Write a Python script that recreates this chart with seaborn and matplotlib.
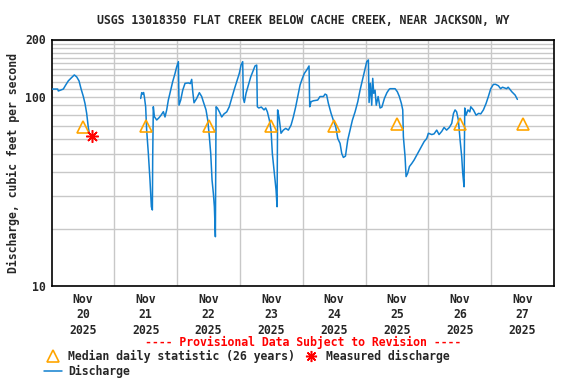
import numpy as np
import pandas as pd
import matplotlib
matplotlib.use('Agg')
import matplotlib.pyplot as plt
import matplotlib.dates as mdates
from matplotlib.lines import Line2D
from matplotlib.ticker import FixedLocator, NullFormatter
import seaborn as sb

# discharge: days after Nov 20 00:00 and cfs
seg1_days = [0.0, 0.098, 0.109, 0.188, 0.226, 0.268, 0.321, 0.363, 0.401, 0.438,
             0.470, 0.507, 0.533, 0.560, 0.586, 0.602, 0.64]
seg1_cfs = [109.5, 109.5, 107, 109.5, 115, 121, 126, 130, 127, 121,
            110, 100, 92, 81.5, 68.7, 64, 62]

seg2_days = [1.420, 1.436, 1.452, 1.466, 1.478, 1.499, 1.515, 1.542, 1.568, 1.590,
             1.606, 1.611, 1.621, 1.638, 1.675, 1.712, 1.744, 1.781, 1.807, 1.834,
             1.860, 1.898, 1.929, 1.967, 1.993, 2.020, 2.030, 2.057, 2.089, 2.126,
             2.180, 2.210, 2.232, 2.249, 2.269, 2.311, 2.354, 2.391, 2.417, 2.460,
             2.487, 2.513, 2.535, 2.556, 2.577, 2.593, 2.609, 2.620, 2.640, 2.673,
             2.710, 2.747, 2.790, 2.830, 2.868, 2.906, 2.949, 2.990, 3.018, 3.044,
             3.054, 3.070, 3.097, 3.134, 3.172, 3.214, 3.240, 3.267, 3.277, 3.300,
             3.340, 3.384, 3.410, 3.437, 3.469, 3.495, 3.516, 3.548, 3.575, 3.591,
             3.600, 3.622, 3.654, 3.691, 3.729, 3.771, 3.814, 3.850, 3.888, 3.920,
             3.957, 3.994, 4.026, 4.063, 4.100, 4.111, 4.132, 4.170, 4.238, 4.275,
             4.330, 4.355, 4.380, 4.408, 4.451, 4.487, 4.525, 4.557, 4.594, 4.621,
             4.647, 4.680, 4.716, 4.753, 4.790, 4.833, 4.876, 4.912, 4.949, 4.992,
             5.019, 5.045, 5.056, 5.077, 5.098, 5.114, 5.130, 5.151, 5.170, 5.200,
             5.231, 5.260, 5.300, 5.340, 5.374, 5.390, 5.470, 5.506, 5.538, 5.570,
             5.592, 5.602, 5.629, 5.645, 5.670, 5.698, 5.735, 5.772, 5.815, 5.857,
             5.894, 5.932, 5.974, 6.000, 6.054, 6.090, 6.133, 6.170, 6.213, 6.250,
             6.290, 6.334, 6.372, 6.400, 6.425, 6.450, 6.478, 6.505, 6.531, 6.547,
             6.568, 6.579, 6.600, 6.630, 6.660, 6.675, 6.717, 6.760, 6.800, 6.834,
             6.876, 6.919, 6.955, 6.993, 7.035, 7.070, 7.115, 7.150, 7.180, 7.245,
             7.270, 7.290, 7.328, 7.381, 7.417]
seg2_cfs = [97.7, 104.8, 103, 105, 100, 88.3, 66.5, 50, 36.2, 26.2,
            25.2, 47.2, 88.3, 78.3, 75.2, 77.3, 79.7, 83.2, 78, 85,
            95.8, 108, 119.7, 132.5, 143.6, 152.8, 90.1, 95.8, 108, 117.4,
            118, 117, 123.2, 106, 92.7, 97.7, 104.8, 100, 93.9, 85,
            75.2, 61.4, 50, 36.2, 30.8, 26.2, 18.2, 88.3, 87, 83,
            78, 81, 83, 88.3, 97.7, 108, 119.7, 132.5, 146.6, 152.8,
            97.7, 93, 104, 115, 127, 138, 145, 146.6, 88.3, 87,
            88, 85, 87, 83, 75, 66.5, 50, 39.3, 32.1, 26.2,
            85, 78, 64, 66.5, 67.9, 66.5, 70.7, 78, 88.3, 100,
            115, 124.7, 132.5, 138, 145, 88.3, 93.9, 95, 95.8, 100,
            100, 103, 102, 92, 81.5, 75, 69.3, 60.1, 56.6, 50,
            47.7, 48.5, 58.9, 66.5, 75, 83, 93.9, 108, 122, 141,
            152.8, 156, 93, 117.4, 90, 124.7, 104, 108, 90, 100,
            87, 88, 97.7, 104.8, 109, 110, 110, 106, 100, 92,
            85, 61.4, 48.1, 37.8, 39.3, 42.7, 44.3, 46.2, 49.1, 52.2,
            54.9, 57.8, 60.1, 64, 63, 63.5, 66.5, 63, 65.5, 68.7,
            66.5, 68.7, 72.2, 81.5, 85, 83, 75, 58.9, 48, 39.3,
            33.4, 87, 79.7, 85, 83, 88.3, 85, 79.7, 81.5, 81,
            85, 92, 100, 110, 115.9, 116, 114, 110, 112, 110,
            112, 110, 106, 101.8, 96.6]

median_days = [0.5, 1.5, 2.5, 3.5, 4.5, 5.5, 6.5, 7.5]
median_cfs = [69, 70, 70, 70, 70, 72, 72, 72]

measured_days = [0.65]
measured_cfs = [62]

day_labels = ['Nov\n20\n2025', 'Nov\n21\n2025', 'Nov\n22\n2025', 'Nov\n23\n2025',
              'Nov\n24\n2025', 'Nov\n25\n2025', 'Nov\n26\n2025', 'Nov\n27\n2025']

start = pd.Timestamp('2025-11-20')


def to_time(days):
    return start + pd.to_timedelta(np.array(days), unit='D')


df = pd.DataFrame({
    'time': np.concatenate([to_time(seg1_days), to_time(seg2_days)]),
    'cfs': seg1_cfs + seg2_cfs,
    'seg': [1] * len(seg1_days) + [2] * len(seg2_days),
})

sb.set_style('white')
plt.rcParams['font.family'] = ['DejaVu Sans Mono']
plt.rcParams['font.weight'] = 'bold'
font = dict(family='DejaVu Sans Mono', weight='bold', size=8.3)

blue = '#1080d0'
orange = '#ffa500'

fig = plt.figure(figsize=(5.76, 3.84), dpi=100)
ax = fig.add_axes([51.5 / 576, 1 - 286 / 384, (554 - 51.5) / 576, (286 - 39.5) / 384])

ax.set_yscale('log')
ax.set_ylim(10, 200)
ax.set_xlim(start, start + pd.Timedelta(days=8))

# gridlines: midnight verticals, log minor horizontals
ax.xaxis.set_major_locator(FixedLocator(mdates.date2num(to_time(median_days))))
ax.xaxis.set_minor_locator(FixedLocator(mdates.date2num(to_time(range(1, 8)))))
ax.set_xticklabels(day_labels, fontdict=font, linespacing=1.25)
ax.yaxis.set_major_locator(FixedLocator([10, 100, 200]))
ax.yaxis.set_minor_locator(FixedLocator(list(range(20, 100, 10)) + list(range(110, 200, 10))))
ax.yaxis.set_minor_formatter(NullFormatter())
ax.set_yticklabels(['10', '100', '200'], fontdict=font)
ax.grid(True, which='minor', color='#c8c8c8', linewidth=1)
ax.grid(True, which='major', axis='y', color='#c8c8c8', linewidth=1)
ax.tick_params(which='both', length=0, pad=4)
ax.tick_params(axis='x', pad=5)
for s in ax.spines.values():
    s.set_color('black')
    s.set_linewidth(1.2)

sb.lineplot(data=df, x='time', y='cfs', units='seg', estimator=None,
            color=blue, linewidth=1.1, ax=ax, zorder=3)
ax.plot(to_time(median_days), median_cfs, linestyle='none', marker='^', ms=9,
        mfc='none', mec=orange, mew=1.2, zorder=4, clip_on=False)
ax.plot(to_time(measured_days), measured_cfs, linestyle='none', marker=(8, 2, 0),
        ms=9, mec='red', mew=1.1, zorder=5)

ax.set_xlabel('')
ax.set_ylabel('Discharge, cubic feet per second', fontdict=font, labelpad=4)

fig.text(0.526, 1 - 20 / 384, 'USGS 13018350 FLAT CREEK BELOW CACHE CREEK, NEAR JACKSON, WY',
         ha='center', va='center', **font)
fig.text(0.526, 1 - 342 / 384, '---- Provisional Data Subject to Revision ----',
         ha='center', va='center', color='red', **font)

handles = [
    Line2D([], [], linestyle='none', marker='^', ms=8, mfc='none', mec=orange, mew=1.2),
    Line2D([], [], color=blue, linewidth=1.1),
    Line2D([], [], linestyle='none', marker=(8, 2, 0), ms=8, mec='red', mew=1.1),
]
labels = ['Median daily statistic (26 years)', 'Discharge', 'Measured discharge']
fig.legend(handles, labels, loc='upper left', bbox_to_anchor=(44 / 576, 1 - 350 / 384),
           ncol=2, frameon=False, prop=font, handlelength=1.6, handletextpad=0.5,
           columnspacing=0.6, labelspacing=0.2, borderpad=0, borderaxespad=0)

fig.savefig('out.png', dpi=100)
